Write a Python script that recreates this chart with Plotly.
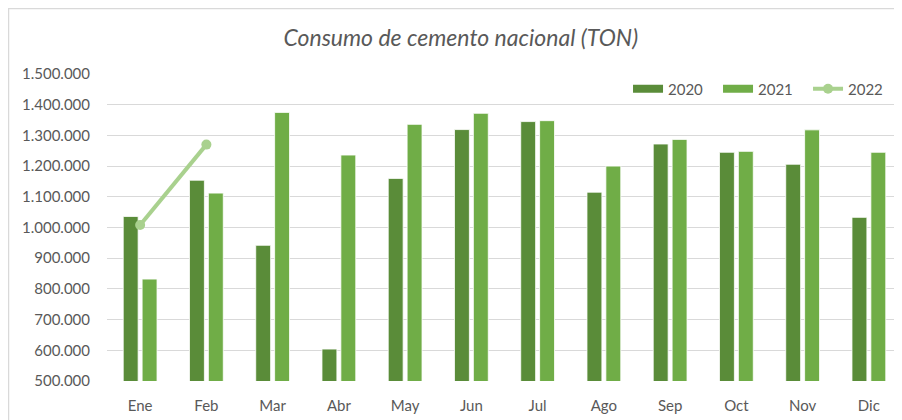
import plotly.graph_objects as go

months = ["Ene", "Feb", "Mar", "Abr", "May", "Jun", "Jul", "Ago", "Sep", "Oct", "Nov", "Dic"]
v2020 = [1036000, 1154000, 942000, 604000, 1160000, 1319000, 1345000, 1115000, 1272000, 1245000, 1206000, 1033000]
v2021 = [832000, 1112000, 1375000, 1236000, 1336000, 1372000, 1348000, 1200000, 1287000, 1248000, 1318000, 1245000]
v2022 = [1008000, 1270000]
y_ticks = [500000, 600000, 700000, 800000, 900000, 1000000, 1100000, 1200000, 1300000, 1400000, 1500000]

C2020 = "#5A8C39"
C2021 = "#70AD47"
C2022 = "#A9D18E"
GREY = "#595959"
FONT = "Lato"

fig = go.Figure()
fig.add_trace(go.Bar(x=months, y=v2020, name="2020", marker=dict(color=C2020, line=dict(color="white", width=0.8)), showlegend=False))
fig.add_trace(go.Bar(x=months, y=v2021, name="2021", marker=dict(color=C2021, line=dict(color="white", width=0.8)), showlegend=False))
fig.add_trace(go.Scatter(x=months[:len(v2022)], y=v2022, name="2022", mode="lines+markers",
                         line=dict(color=C2022, width=4), marker=dict(size=10, color=C2022), showlegend=False))
# legend-only entries
fig.add_trace(go.Scatter(x=[None], y=[None], name="2020", mode="lines", line=dict(color=C2020, width=8)))
fig.add_trace(go.Scatter(x=[None], y=[None], name="2021", mode="lines", line=dict(color=C2021, width=8)))
fig.add_trace(go.Scatter(x=[None], y=[None], name="2022", mode="lines+markers", line=dict(color=C2022, width=4), marker=dict(size=10, color=C2022)))

fig.update_layout(
    width=902, height=420,
    margin=dict(l=99, r=8, t=66, b=47),
    paper_bgcolor="white", plot_bgcolor="white",
    separators=",.",
    font=dict(family=FONT, color=GREY, size=15),
    title=dict(text="<i>Consumo de cemento nacional (TON)</i>", font=dict(size=23, color=GREY, family=FONT),
               x=0.502, xref="container", xanchor="center", y=0.9286, yref="container", yanchor="middle"),
    barmode="group", bargap=0.43, bargroupgap=0.21,
    legend=dict(orientation="h", x=0.995, xanchor="right", y=0.951, yanchor="middle", yref="paper",
                font=dict(size=15, color=GREY), bgcolor="rgba(0,0,0,0)", entrywidth=45, itemwidth=30),
    xaxis=dict(type="category", categoryarray=months, range=[-0.5, len(months) - 0.5], autorange=False,
               showgrid=False, showline=False, zeroline=False, ticks="", ticklabelstandoff=14,
               tickfont=dict(size=15, color=GREY)),
    yaxis=dict(range=[500000, 1500000], tickvals=y_ticks, tickformat=",d", showgrid=True, gridcolor="#D9D9D9",
               gridwidth=1, zeroline=False, showline=False, ticks="", ticklabelstandoff=16,
               tickfont=dict(size=15, color=GREY)),
    shapes=[dict(type="rect", xref="paper", yref="paper", x0=-0.1239, x1=1.05, y0=-0.3, y1=1.213,
                 line=dict(color="#D9D9D9", width=1.5), fillcolor="rgba(0,0,0,0)", layer="below")],
)

fig.write_html("out.html")
